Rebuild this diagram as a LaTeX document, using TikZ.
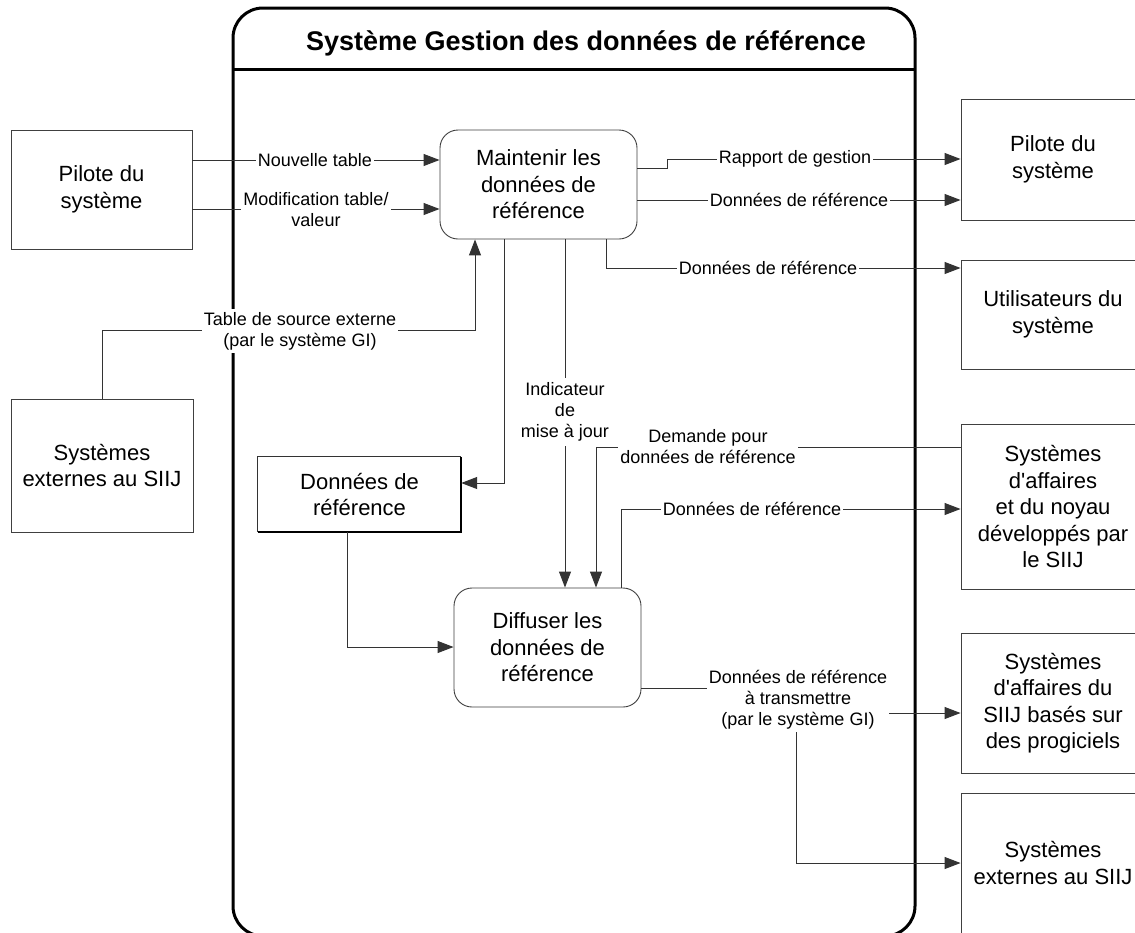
\documentclass[tikz,border=0pt]{standalone}
\usepackage{fontspec}
\setmainfont{Liberation Sans}[Ligatures=TeXOff]
\usetikzlibrary{arrows.meta}
\begin{document}
\begin{tikzpicture}[x=1pt,y=-1pt,
  box/.style={draw=black!75, line width=0.9pt, align=center, inner sep=0pt,
    font=\fontsize{22}{26.5}\selectfont},
  proc/.style={box, rounded corners=18pt},
  plain/.style={align=center, inner sep=0pt, font=\fontsize{22}{26.5}\selectfont},
  lbl/.style={fill=white, inner sep=2pt, align=center, font=\fontsize{18}{21}\selectfont},
  flow/.style={draw=black!80, line width=1pt, -{Triangle[length=16pt,width=12pt]}},
  wire/.style={draw=black!80, line width=1pt}]
\clip (0,0) rectangle (1135,932);
\fill[white] (0,0) rectangle (1135,932);
% outer system frame
\draw[line width=3pt, rounded corners=30pt] (233,936) -- (233,8) -- (915,8) -- (915,936) -- cycle;
\coordinate (hl) at (233,69);
\coordinate (hr) at (915,69);
\draw[line width=3pt] (hl) -- (hr);
\node[font=\bfseries\fontsize{27}{32}\selectfont] (T) at (586,43) {Système Gestion des données de référence};
% external entities
\node[box, minimum width=181pt, minimum height=119pt] (LP) at (101.5,189.5) {Pilote du\\système};
\node[box, minimum width=182pt, minimum height=133pt] (LSE) at (102,465.5) {Systèmes\\externes au SIIJ};
\node[box, minimum width=184pt, minimum height=121pt] (RP) at (1053,159.5) {Pilote du\\système};
\node[box, minimum width=184pt, minimum height=109pt] (RU) at (1053,314.5) {Utilisateurs du\\système};
\node[box, minimum width=184pt, minimum height=165pt] (RA) at (1053,506.5) {Systèmes\\d'affaires\\et du noyau\\développés par\\le SIIJ};
\node[box, minimum width=184pt, minimum height=140pt] (RPg) at (1053,703) {Systèmes\\d'affaires du\\SIIJ basés sur\\des progiciels};
\node[box, minimum width=184pt, minimum height=140pt] (RE) at (1053,863) {Systèmes\\externes au SIIJ};
% processes
\node[proc, minimum width=197pt, minimum height=109pt] (M) at (538.5,184.5) {Maintenir les\\données de\\référence};
\node[proc, minimum width=187pt, minimum height=119pt] (D) at (547.5,647.5) {Diffuser les\\données de\\référence};
% data store
\node[plain, minimum width=203pt, minimum height=75pt] (DS) at (359.5,494.5) {Données de\\référence};
\draw[black!80, line width=0.9pt] (DS.south west) -- (DS.north west) -- (DS.north east);
\draw[black, line width=2.2pt] (DS.north east) -- (DS.south east) -- (DS.south west);
% junction coordinates
\coordinate (c1) at (300,160);
\coordinate (c2) at (300,209);
\coordinate (c3) at (475,330);
\coordinate (c4) at (504,483);
\coordinate (c5) at (565,400);
\coordinate (c6a) at (667,168);
\coordinate (c6b) at (667,159);
\coordinate (c7) at (800,200);
\coordinate (c8) at (606,268);
\coordinate (c9) at (347,647);
\coordinate (c10) at (596,447);
\coordinate (c11) at (621,509);
\coordinate (c12) at (796,688);
\coordinate (c13) at (796,713);
\coordinate (c14) at (796,863);
% connectors
\draw[flow] (LP.east |- c1) -- (M.west |- c1);
\draw[flow] (LP.east |- c2) -- (M.west |- c2);
\draw[flow] (LSE.north) |- (c3) -- (c3 |- M.south);
\draw[flow] (c4 |- M.south) -- (c4) -- (DS.east |- c4);
\draw[flow] (c5 |- M.south) -- (c5 |- D.north);
\draw[flow] (M.east |- c6a) -- (c6a) -- (c6b) -- (RP.west |- c6b);
\draw[flow] (M.east |- c7) -- (RP.west |- c7);
\draw[flow] (c8 |- M.south) -- (c8) -- (RU.west |- c8);
\draw[flow] (c9 |- DS.south) -- (c9) -- (D.west |- c9);
\draw[flow] (RA.west |- c10) -- (c10) -- (c10 |- D.north);
\draw[flow] (c11 |- D.north) -- (c11) -- (RA.west |- c11);
\draw[flow] (D.east |- c12) -- (c12) -- (c13) -- (RPg.west |- c13);
\draw[flow] (c13) -- (c14) -- (RE.west |- c14);
% labels
\node[lbl] (l1) at (315,160) {Nouvelle table};
\node[lbl] (l2) at (316,210) {Modification table/\\valeur};
\node[lbl, inner ysep=3pt] (l3) at (300,331) {Table de source externe\\(par le système GI)};
\node[lbl, inner ysep=5pt] (l4) at (565,412) {Indicateur\\de\\mise à jour};
\node[lbl] (l5) at (795,159) {Rapport de gestion};
\node[lbl] (l6) at (799,200) {Données de référence};
\node[lbl] (l7) at (768,268) {Données de référence};
\node[lbl] (l8) at (708,447) {Demande pour\\données de référence};
\node[lbl] (l9) at (752,509) {Données de référence};
\node[lbl] (l10) at (798,700) {Données de référence\\à transmettre\\(par le système GI)};
\end{tikzpicture}
\end{document}
